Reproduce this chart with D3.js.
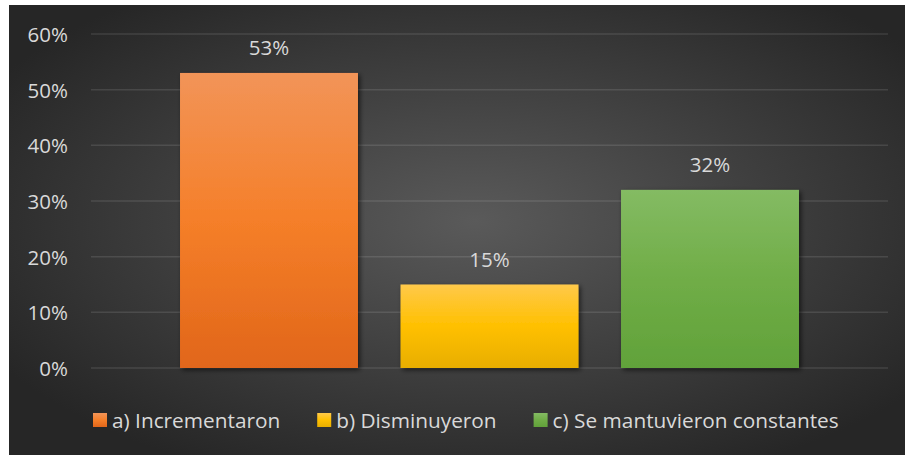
<!DOCTYPE html>
<html>
<head>
<meta charset="utf-8">
<script src="https://cdn.jsdelivr.net/npm/d3@7"></script>
<style>
  html, body { margin: 0; padding: 0; background: #fff; }
  svg { display: block; }
  text { font-family: 'Open Sans', sans-serif; fill: #d9d9d9; }
</style>
</head>
<body>
<div id="wrapper"></div>
<script>
const categories = ['a) Incrementaron', 'b) Disminuyeron', 'c) Se mantuvieron constantes'];
const values = [0.53, 0.15, 0.32];
const yTicks = [0, 0.1, 0.2, 0.3, 0.4, 0.5, 0.6];
const gradients = [
  ['#f29458', '#f57f29', '#e1661a'],
  ['#ffc94a', '#ffc000', '#e8ae00'],
  ['#84bb63', '#70ad47', '#61a23a'],
];

function drawChart() {
  const dimensions = {
    width: 905,
    height: 455,
    frame: { left: 9, top: 5 },
    plot: { left: 91, right: 888, top: 34, bottom: 368 },
  };

  const wrapper = d3.select('#wrapper')
    .append('svg')
    .attr('width', dimensions.width)
    .attr('height', dimensions.height);

  const defs = wrapper.append('defs');

  const bg = defs.append('radialGradient')
    .attr('id', 'bg')
    .attr('cx', '52%').attr('cy', '48%').attr('r', '62%');
  bg.append('stop').attr('offset', '0%').attr('stop-color', '#5a5a5a');
  bg.append('stop').attr('offset', '100%').attr('stop-color', '#262626');

  gradients.forEach((g, i) => {
    const lg = defs.append('linearGradient')
      .attr('id', `bar${i}`)
      .attr('x1', 0).attr('y1', 0).attr('x2', 0).attr('y2', 1);
    lg.append('stop').attr('offset', '0%').attr('stop-color', g[0]);
    lg.append('stop').attr('offset', '50%').attr('stop-color', g[1]);
    lg.append('stop').attr('offset', '100%').attr('stop-color', g[2]);
  });

  const shadow = defs.append('filter')
    .attr('id', 'shadow')
    .attr('x', '-10%').attr('y', '-10%').attr('width', '130%').attr('height', '130%');
  shadow.append('feDropShadow')
    .attr('dx', 2).attr('dy', 2).attr('stdDeviation', 2.5)
    .attr('flood-color', '#000').attr('flood-opacity', 0.6);

  // fondo
  wrapper.append('rect')
    .attr('x', dimensions.frame.left)
    .attr('y', dimensions.frame.top)
    .attr('width', dimensions.width - dimensions.frame.left)
    .attr('height', dimensions.height - dimensions.frame.top)
    .attr('fill', 'url(#bg)');

  const yScale = d3.scaleLinear()
    .domain([0, 0.6])
    .range([dimensions.plot.bottom, dimensions.plot.top]);

  const xScale = d3.scaleBand()
    .domain(categories)
    .range([158.75, 820.25])
    .paddingInner(0.193)
    .paddingOuter(0.0965);

  // cuadrícula
  wrapper.append('g')
    .selectAll('line')
    .data(yTicks)
    .join('line')
    .attr('x1', dimensions.plot.left)
    .attr('x2', dimensions.plot.right)
    .attr('y1', (d) => yScale(d))
    .attr('y2', (d) => yScale(d))
    .attr('stroke', 'rgba(255,255,255,0.11)')
    .attr('stroke-width', 1.5);

  const yAxis = wrapper.append('g')
    .attr('transform', `translate(${dimensions.plot.left - 23}, 0)`)
    .call(d3.axisLeft(yScale).tickValues(yTicks).tickFormat(d3.format('.0%')).tickSize(0).tickPadding(0));
  yAxis.select('.domain').remove();
  yAxis.selectAll('text')
    .attr('fill', '#d9d9d9')
    .style('font-family', "'Open Sans', sans-serif")
    .style('font-size', '20.5px')
    .attr('dy', '0.36em');

  // barras
  wrapper.append('g')
    .selectAll('rect')
    .data(values)
    .join('rect')
    .attr('x', (d, i) => xScale(categories[i]))
    .attr('y', (d) => yScale(d))
    .attr('width', xScale.bandwidth())
    .attr('height', (d) => yScale(0) - yScale(d))
    .attr('fill', (d, i) => `url(#bar${i})`)
    .attr('filter', 'url(#shadow)');

  wrapper.append('g')
    .selectAll('text')
    .data(values)
    .join('text')
    .attr('x', (d, i) => xScale(categories[i]) + xScale.bandwidth() / 2)
    .attr('y', (d) => yScale(d) - 18)
    .attr('text-anchor', 'middle')
    .style('font-size', '20.5px')
    .text((d) => d3.format('.0%')(d));

  // leyenda
  const legend = wrapper.append('g');
  let lx = 93;
  categories.forEach((c, i) => {
    legend.append('rect')
      .attr('x', lx)
      .attr('y', 413)
      .attr('width', 14)
      .attr('height', 14)
      .attr('fill', `url(#bar${i})`);
    const t = legend.append('text')
      .attr('x', lx + 19)
      .attr('y', 427.5)
      .style('font-size', '20.8px')
      .text(c);
    lx += 19 + t.node().getComputedTextLength() + 37;
  });
}

drawChart();
</script>
</body>
</html>
